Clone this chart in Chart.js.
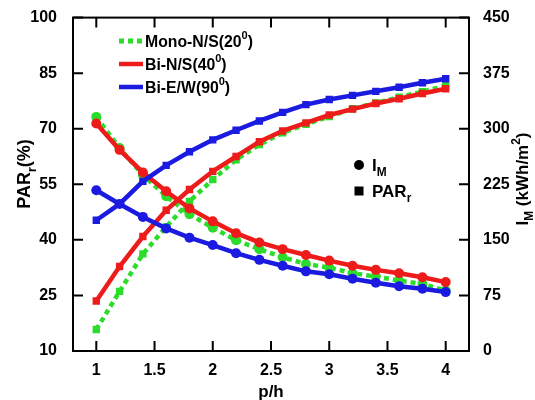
<!DOCTYPE html>
<html>
<head>
<meta charset="utf-8">
<script src="https://cdn.jsdelivr.net/npm/chart.js@4.4.1/dist/chart.umd.min.js"></script>
<style>
  html, body { margin: 0; padding: 0; background: #fff; }
  #wrap { width: 535px; height: 400px; }
</style>
</head>
<body>
<div id="wrap"><canvas id="canvas" width="535" height="400"></canvas></div>
<script>
    'use strict';
    // p/h values
    var pH = [1, 1.2, 1.4, 1.6, 1.8, 2, 2.2, 2.4, 2.6, 2.8, 3, 3.2, 3.4, 3.6, 3.8, 4];

    // PAR_r (%) - left axis, squares
    var parMono = [15.8, 26.1, 36.2, 43.5, 50.4, 56.3, 61.6, 65.7, 68.9, 71.2, 73.3, 75.4, 77.0, 78.5, 80.0, 81.6];
    var parBiNS = [23.5, 32.8, 40.9, 48.0, 53.6, 58.5, 62.5, 66.5, 69.4, 71.6, 73.7, 75.3, 76.8, 78.1, 79.5, 80.8];
    var parBiEW = [45.3, 49.7, 55.8, 60.1, 63.8, 67.0, 69.6, 72.1, 74.4, 76.5, 77.9, 79.0, 80.1, 81.2, 82.4, 83.5];

    // I_M (kWh/m2) - right axis, circles
    var imMono = [316, 274, 237.5, 209, 184.5, 166.5, 149.5, 137.5, 126.5, 117.5, 112.5, 105, 100.5, 95, 90.5, 81.5];
    var imBiNS = [307, 271.5, 241, 215.5, 192.5, 175, 159, 146.5, 137.5, 129.5, 122, 115, 109.5, 105, 99.5, 93];
    var imBiEW = [217, 198.5, 181, 165.5, 153, 143, 132, 123, 115, 107.5, 103.5, 97.5, 92, 87.5, 84, 79.5];

    var xTicks = [1, 1.5, 2, 2.5, 3, 3.5, 4];
    var leftTicks = [10, 25, 40, 55, 70, 85, 100];
    var rightTicks = [0, 75, 150, 225, 300, 375, 450];

    var GREEN = '#2bdc2b', RED = '#ee1b1b', BLUE = '#1a1ae0';
    var FONT = '"Liberation Sans", Arial, sans-serif';

    function pts(ys) {
        return pH.map(function (x, i) { return {x: x, y: ys[i]}; });
    }

    function series(data, color, axis, style, dashed, order) {
        return {
            data: pts(data),
            yAxisID: axis,
            borderColor: color,
            backgroundColor: color,
            borderWidth: dashed ? 4.5 : 4.5,
            borderDash: dashed ? [5, 4] : [],
            pointStyle: style,
            pointRadius: style === 'rect' ? 5.2 : 5,
            pointBorderWidth: 0,
            tension: 0,
            order: order
        };
    }

    // text with sub/superscripts, drawn from left at baseline
    function richWidth(ctx, parts, size) {
        var w = 0;
        parts.forEach(function (p) {
            var s = p.sub || p.sup ? size * 0.7 : size;
            ctx.font = 'bold ' + s + 'px ' + FONT;
            w += ctx.measureText(p.t).width;
        });
        return w;
    }
    function drawRich(ctx, parts, x, y, size) {
        parts.forEach(function (p) {
            var s = p.sub || p.sup ? size * 0.7 : size;
            var dy = p.sub ? size * 0.32 : (p.sup ? -size * 0.45 : 0);
            ctx.font = 'bold ' + s + 'px ' + FONT;
            ctx.fillText(p.t, x, y + dy);
            x += ctx.measureText(p.t).width;
        });
    }

    var decor = {
        id: 'decor',
        afterDraw: function (chart) {
            var ctx = chart.ctx, a = chart.chartArea, s = chart.scales;
            ctx.save();
            ctx.strokeStyle = '#000';
            ctx.fillStyle = '#000';
            ctx.lineWidth = 2;
            ctx.strokeRect(a.left, a.top, a.right - a.left, a.bottom - a.top);
            ctx.beginPath();
            xTicks.forEach(function (v) {
                var px = s.x.getPixelForValue(v);
                ctx.moveTo(px, a.bottom); ctx.lineTo(px, a.bottom - 10);
                ctx.moveTo(px, a.top); ctx.lineTo(px, a.top + 10);
            });
            leftTicks.forEach(function (v) {
                var py = s.y.getPixelForValue(v);
                ctx.moveTo(a.left, py); ctx.lineTo(a.left + 10, py);
            });
            rightTicks.forEach(function (v) {
                var py = s.y2.getPixelForValue(v);
                ctx.moveTo(a.right, py); ctx.lineTo(a.right - 10, py);
            });
            ctx.stroke();

            ctx.textBaseline = 'alphabetic';
            // axis titles
            ctx.font = 'bold 17px ' + FONT;
            ctx.textAlign = 'center';
            ctx.fillText('p/h', (a.left + a.right) / 2, 397);
            ctx.textAlign = 'left';

            var leftT = [{t: 'PAR'}, {t: 'r', sub: true}, {t: '(%)'}];
            ctx.save();
            ctx.translate(30, 174);
            ctx.rotate(-Math.PI / 2);
            drawRich(ctx, leftT, -richWidth(ctx, leftT, 18) / 2, 0, 18);
            ctx.restore();

            var rightT = [{t: 'I'}, {t: 'M', sub: true}, {t: ' (kWh/m'}, {t: '2', sup: true}, {t: ')'}];
            ctx.save();
            ctx.translate(528, 179);
            ctx.rotate(-Math.PI / 2);
            drawRich(ctx, rightT, -richWidth(ctx, rightT, 17) / 2, 0, 17);
            ctx.restore();

            // series legend
            var items = [
                {c: GREEN, dash: true, parts: [{t: 'Mono-N/S(20'}, {t: '0', sup: true}, {t: ')'}], y: 41},
                {c: RED, dash: false, parts: [{t: 'Bi-N/S(40'}, {t: '0', sup: true}, {t: ')'}], y: 64},
                {c: BLUE, dash: false, parts: [{t: 'Bi-E/W(90'}, {t: '0', sup: true}, {t: ')'}], y: 87}
            ];
            items.forEach(function (it) {
                ctx.beginPath();
                ctx.strokeStyle = it.c;
                ctx.lineWidth = it.dash ? 5 : 4.5;
                ctx.setLineDash(it.dash ? [5, 4] : []);
                ctx.moveTo(119, it.y);
                ctx.lineTo(143, it.y);
                ctx.stroke();
                ctx.setLineDash([]);
                ctx.fillStyle = '#000';
                drawRich(ctx, it.parts, 145, it.y + 5.5, 15.8);
            });

            // marker legend
            ctx.fillStyle = '#000';
            ctx.beginPath();
            ctx.arc(359, 165, 5, 0, Math.PI * 2);
            ctx.fill();
            drawRich(ctx, [{t: 'I'}, {t: 'M', sub: true}], 372, 171, 17);
            ctx.fillRect(354.5, 186.5, 9, 9);
            drawRich(ctx, [{t: 'PAR'}, {t: 'r', sub: true}], 372, 197, 17);
            ctx.restore();
        }
    };

    var tickFont = {family: FONT, size: 16, weight: 'bold'};

    var ctx = document.getElementById('canvas').getContext('2d');
    window.myChart = new Chart(ctx, {
        type: 'line',
        data: {
            datasets: [
                series(parMono, GREEN, 'y', 'rect', true, 3),
                series(imMono, GREEN, 'y2', 'circle', true, 3),
                series(parBiNS, RED, 'y', 'rect', false, 2),
                series(imBiNS, RED, 'y2', 'circle', false, 2),
                series(parBiEW, BLUE, 'y', 'rect', false, 1),
                series(imBiEW, BLUE, 'y2', 'circle', false, 1)
            ]
        },
        options: {
            responsive: false,
            animation: false,
            layout: {padding: {top: 15, left: 0, right: 0, bottom: 0}},
            plugins: {legend: {display: false}, tooltip: {enabled: false}},
            scales: {
                x: {
                    type: 'linear',
                    min: 0.8,
                    max: 4.2,
                    grid: {display: false},
                    border: {display: false},
                    afterBuildTicks: function (sc) { sc.ticks = xTicks.map(function (v) { return {value: v}; }); },
                    afterFit: function (sc) { sc.height = 49; },
                    ticks: {color: '#000', font: tickFont, padding: 2, maxRotation: 0,
                        callback: function (v) { return String(v); }}
                },
                y: {
                    position: 'left',
                    min: 10,
                    max: 100,
                    grid: {display: false},
                    border: {display: false},
                    afterBuildTicks: function (sc) { sc.ticks = leftTicks.map(function (v) { return {value: v}; }); },
                    afterFit: function (sc) { sc.width = 73; },
                    ticks: {color: '#000', font: tickFont, padding: 8}
                },
                y2: {
                    position: 'right',
                    min: 0,
                    max: 450,
                    grid: {display: false},
                    border: {display: false},
                    afterBuildTicks: function (sc) { sc.ticks = rightTicks.map(function (v) { return {value: v}; }); },
                    afterFit: function (sc) { sc.width = 66; },
                    ticks: {color: '#000', font: tickFont, padding: 6}
                }
            }
        },
        plugins: [decor]
    });
</script>
</body>
</html>
